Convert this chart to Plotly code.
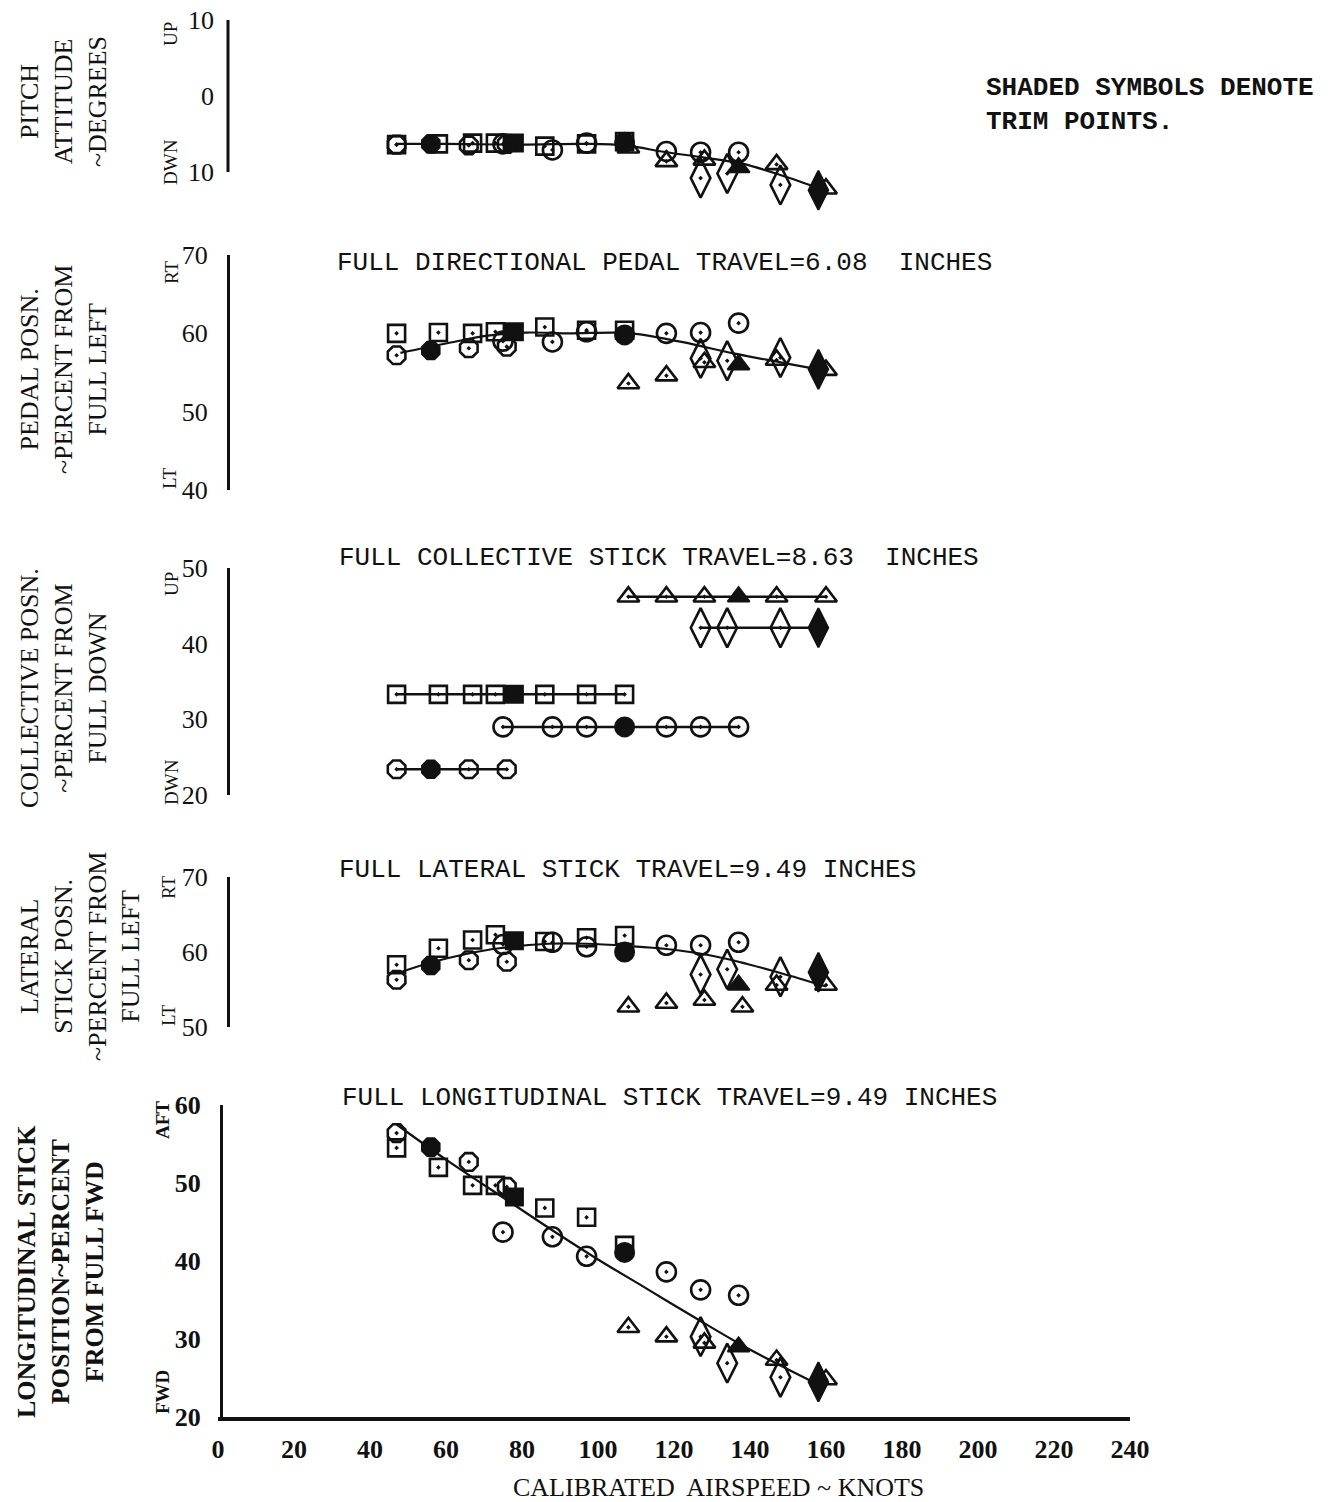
import plotly.graph_objects as go

# ---------------------------------------------------------------------------
# Calibrated airspeeds (knots) flown for each test condition
SQ_KT = [47, 58, 67, 73, 78, 86, 97, 107]          # squares
CI_KT = [75, 88, 97, 107, 118, 127, 137]           # circles
HX_KT = [47, 56, 66, 76]                           # octagons
TR_KT = [108, 118, 128, 137, 147, 160]             # triangles
DI_KT = [127, 134, 148, 158]                       # diamonds

# Trim point (shaded symbol) of each condition
SQ_TRIM, CI_TRIM, HX_TRIM, TR_TRIM, DI_TRIM = 78, 107, 56, 137, 158

# Pitch attitude, degrees (negative = nose down)
PITCH_SQ = [-6.4, -6.3, -6.2, -6.2, -6.2, -6.6, -6.3, -6.0]
PITCH_CI = [-6.3, -7.1, -6.2, -6.1, -7.3, -7.4, -7.4]
PITCH_HX = [-6.4, -6.3, -6.5, -6.3]
PITCH_TR = [-6.8, -8.6, -8.4, -9.4, -9.0, -12.2]
PITCH_DI = [-10.8, -10.2, -11.7, -12.4]
PITCH_FAIR_KT = [47, 60, 80, 97, 107, 118, 128, 138, 148, 159]
PITCH_FAIR = [-6.3, -6.3, -6.4, -6.3, -6.5, -7.4, -8.1, -8.9, -10.4, -12.3]

# Pedal position, percent from full left
PEDAL_SQ = [60.0, 60.1, 60.0, 60.2, 60.2, 60.8, 60.4, 60.4]
PEDAL_CI = [59.0, 58.9, 60.2, 59.8, 60.0, 60.1, 61.3]
PEDAL_HX = [57.2, 57.8, 58.1, 58.3]
PEDAL_TR = [53.6, 54.6, 56.3, 56.0, 56.6, 55.3]
PEDAL_DI = [56.8, 56.5, 56.9, 55.4]
PEDAL_FAIR_KT = [48, 60, 71, 81, 92, 104, 109, 122, 136, 148, 159]
PEDAL_FAIR = [57.5, 58.7, 59.7, 60.1, 60.0, 60.1, 60.0, 58.9, 57.4, 56.3, 55.3]

# Collective position, percent from full down
COLL_SQ = [33.3, 33.3, 33.3, 33.3, 33.3, 33.3, 33.3, 33.3]
COLL_CI = [29.0, 29.0, 29.0, 29.0, 29.0, 29.0, 29.0]
COLL_HX = [23.4, 23.4, 23.4, 23.4]
COLL_TR = [46.2, 46.2, 46.2, 46.2, 46.2, 46.2]
COLL_DI = [42.1, 42.1, 42.1, 42.1]

# Lateral stick position, percent from full left
LAT_SQ = [58.3, 60.5, 61.6, 62.3, 61.5, 61.4, 61.9, 62.2]
LAT_CI = [61.0, 61.3, 60.7, 60.0, 60.9, 60.9, 61.3]
LAT_HX = [56.3, 58.2, 58.9, 58.7]
LAT_TR = [52.7, 53.2, 53.6, 55.6, 55.6, 55.6]
LAT_DI = [57.0, 57.7, 56.7, 57.3]
LAT_TR_EXTRA_KT = [138]
LAT_TR_EXTRA = [52.7]
LAT_FAIR_KT = [48, 56, 65, 74, 87, 97, 108, 118, 129, 137, 148, 160]
LAT_FAIR = [57.3, 58.6, 59.7, 60.5, 61.1, 61.1, 60.8, 60.4, 59.6, 58.7, 57.2, 55.4]

# Longitudinal stick position, percent from full forward
LONG_SQ = [54.5, 52.0, 49.7, 49.7, 48.2, 46.8, 45.6, 42.0]
LONG_CI = [43.7, 43.1, 40.6, 41.1, 38.6, 36.3, 35.6]
LONG_HX = [56.4, 54.6, 52.7, 49.5]
LONG_TR = [31.5, 30.3, 29.5, 29.0, 27.3, 24.8]
LONG_DI = [30.3, 26.9, 25.1, 24.5]
LONG_FAIR_KT = [47, 60, 77, 90, 100, 113, 127, 139, 148, 159]
LONG_FAIR = [57.5, 53.0, 47.5, 43.3, 40.2, 36.4, 32.3, 28.9, 26.6, 23.9]

X_TICKS = [0, 20, 40, 60, 80, 100, 120, 140, 160, 180, 200, 220, 240]

# ---------------------------------------------------------------------------
FIG_W, FIG_H = 1332, 1502
PLOT_L, PLOT_R, PLOT_T, PLOT_B = 218, 1130, 10, 1417
PW, PH = PLOT_R - PLOT_L, PLOT_B - PLOT_T


def xp(px):
    return (px - PLOT_L) / PW


def yp(py):
    return (PLOT_B - py) / PH


SERIF = "Liberation Serif"
MONO = "Liberation Mono"
INK = "#111111"

SYMBOLS = {
    "sq": ("square", 17),
    "ci": ("circle", 19),
    "hx": ("octagon", 19),
    "tr": ("triangle-up", 19),
    "di": ("diamond-tall", 28),
}
SERIES = [
    ("sq", SQ_KT, SQ_TRIM),
    ("ci", CI_KT, CI_TRIM),
    ("hx", HX_KT, HX_TRIM),
    ("tr", TR_KT, TR_TRIM),
    ("di", DI_KT, DI_TRIM),
]

fig = go.Figure()


def add_points(kts, vals, key, trim, yaxis, connect=False):
    sym, size = SYMBOLS[key]
    if connect:
        fig.add_trace(go.Scatter(x=kts, y=vals, mode="lines", xaxis="x", yaxis=yaxis,
                                 line=dict(color=INK, width=2.5), showlegend=False,
                                 hoverinfo="skip"))
    ok = [(k, v) for k, v in zip(kts, vals) if k != trim]
    tr = [(k, v) for k, v in zip(kts, vals) if k == trim]
    if ok:
        fig.add_trace(go.Scatter(
            x=[p[0] for p in ok], y=[p[1] for p in ok], mode="markers",
            xaxis="x", yaxis=yaxis, cliponaxis=False, showlegend=False,
            marker=dict(symbol=sym + "-open-dot", size=size, color=INK,
                        line=dict(color=INK, width=2.6))))
    if tr:
        fig.add_trace(go.Scatter(
            x=[p[0] for p in tr], y=[p[1] for p in tr], mode="markers",
            xaxis="x", yaxis=yaxis, cliponaxis=False, showlegend=False,
            marker=dict(symbol=sym, size=size, color=INK,
                        line=dict(color=INK, width=2))))


def add_fairing(kts, vals, yaxis, width=2.2):
    fig.add_trace(go.Scatter(x=kts, y=vals, mode="lines", xaxis="x", yaxis=yaxis,
                             line=dict(color=INK, width=width, shape="spline", smoothing=1.0),
                             showlegend=False, hoverinfo="skip"))


# pitch attitude
add_fairing(PITCH_FAIR_KT, PITCH_FAIR, "y5")
for (key, kts, trim), vals in zip(SERIES, [PITCH_SQ, PITCH_CI, PITCH_HX, PITCH_TR, PITCH_DI]):
    add_points(kts, vals, key, trim, "y5")

# pedal
add_fairing(PEDAL_FAIR_KT, PEDAL_FAIR, "y4")
for (key, kts, trim), vals in zip(SERIES, [PEDAL_SQ, PEDAL_CI, PEDAL_HX, PEDAL_TR, PEDAL_DI]):
    add_points(kts, vals, key, trim, "y4")

# collective
for (key, kts, trim), vals in zip(SERIES, [COLL_SQ, COLL_CI, COLL_HX, COLL_TR, COLL_DI]):
    add_points(kts, vals, key, trim, "y3", connect=True)

# lateral stick
add_fairing(LAT_FAIR_KT, LAT_FAIR, "y2")
for (key, kts, trim), vals in zip(SERIES, [LAT_SQ, LAT_CI, LAT_HX, LAT_TR, LAT_DI]):
    add_points(kts, vals, key, trim, "y2")
add_points(LAT_TR_EXTRA_KT, LAT_TR_EXTRA, "tr", None, "y2")

# longitudinal stick
add_fairing(LONG_FAIR_KT, LONG_FAIR, "y")
for (key, kts, trim), vals in zip(SERIES, [LONG_SQ, LONG_CI, LONG_HX, LONG_TR, LONG_DI]):
    add_points(kts, vals, key, trim, "y")

# ---------------------------------------------------------------------------
tick_font = dict(family=SERIF, size=26, color=INK)


def yaxis_cfg(domain, rng, tickvals, ticktext=None, anchor_px=228, line=True, bold=False):
    labels = ticktext if ticktext is not None else [str(v) for v in tickvals]
    if bold:
        labels = ["<b>%s</b>" % t for t in labels]
    cfg = dict(domain=domain, range=rng, tickvals=tickvals, ticktext=labels,
               showgrid=False, zeroline=False,
               showline=line, linecolor=INK, linewidth=3, ticks="", tickfont=tick_font,
               ticklabelstandoff=14, fixedrange=True, automargin=False)
    if anchor_px == PLOT_L:
        cfg["anchor"] = "x"
    else:
        cfg["anchor"] = "free"
        cfg["position"] = xp(anchor_px)
    return cfg


fig.update_layout(
    width=FIG_W, height=FIG_H,
    margin=dict(l=PLOT_L, r=FIG_W - PLOT_R, t=PLOT_T, b=FIG_H - PLOT_B, autoexpand=False),
    paper_bgcolor="white", plot_bgcolor="white",
    showlegend=False,
    xaxis=dict(range=[0, 240], tickvals=X_TICKS,
               ticktext=["<b>%d</b>" % v for v in X_TICKS],
               showgrid=False, zeroline=False,
               showline=True, linecolor=INK, linewidth=4, ticks="", anchor="y",
               tickfont=dict(family=SERIF, size=26, color=INK), ticklabelstandoff=6,
               fixedrange=True, automargin=False),
    yaxis=yaxis_cfg([0, yp(1105)], [20, 60], [20, 30, 40, 50, 60], anchor_px=221, bold=True),
    yaxis2=yaxis_cfg([yp(1027), yp(877)], [50, 70], [50, 60, 70]),
    yaxis3=yaxis_cfg([yp(795), yp(568)], [20, 50], [20, 30, 40, 50]),
    yaxis4=yaxis_cfg([yp(490), yp(255)], [40, 70], [40, 50, 60, 70]),
    yaxis5=yaxis_cfg([yp(194.8), yp(20)], [-13, 10], [-10, 0, 10], ["10", "0", "10"], line=False),
)

# pitch axis spine only covers -10 .. +10 degrees
fig.add_shape(type="line", xref="paper", yref="y5", x0=xp(228), x1=xp(228), y0=-10, y1=10,
              line=dict(color=INK, width=3))

annotations = []


def note(text, x, y, size, family=SERIF, angle=0, xanchor="center", bold=False, align="center"):
    if bold:
        text = "<b>" + text.replace("<br>", "</b><br><b>") + "</b>"
    annotations.append(dict(text=text, x=xp(x), y=yp(y), xref="paper", yref="paper",
                            showarrow=False, textangle=angle, xanchor=xanchor, yanchor="middle",
                            align=align, font=dict(family=family, size=size, color=INK)))


# panel captions
note("FULL DIRECTIONAL PEDAL TRAVEL=6.08  INCHES", 335, 263, 26, MONO, xanchor="left")
note("FULL COLLECTIVE STICK TRAVEL=8.63  INCHES", 337, 558, 26, MONO, xanchor="left")
note("FULL LATERAL STICK TRAVEL=9.49 INCHES", 337, 870, 26, MONO, xanchor="left")
note("FULL LONGITUDINAL STICK TRAVEL=9.49 INCHES", 340, 1098, 26, MONO, xanchor="left")
note("SHADED SYMBOLS DENOTE<br>TRIM POINTS.", 984, 105, 26, MONO, xanchor="left", bold=True,
     align="left")

# axis titles
note("PITCH<br>ATTITUDE<br>~DEGREES", 63, 102, 26, angle=-90)
note("PEDAL POSN.<br>~PERCENT FROM<br>FULL LEFT", 63, 370, 26, angle=-90)
note("COLLECTIVE POSN.<br>~PERCENT FROM<br>FULL DOWN", 63, 688, 26, angle=-90)
note("LATERAL<br>STICK POSN.<br>~PERCENT FROM<br>FULL LEFT", 80, 957, 26, angle=-90)
note("LONGITUDINAL STICK<br>POSITION~PERCENT<br>FROM FULL FWD", 60, 1272, 26, angle=-90, bold=True)

# direction labels beside the scales
for txt, x, y, b in [("UP", 171, 34, False), ("DWN", 171, 162, False),
                     ("RT", 171, 272, False), ("LT", 170, 478, False),
                     ("UP", 171, 584, False), ("DWN", 171, 782, False),
                     ("RT", 168, 887, False), ("LT", 168, 1015, False),
                     ("AFT", 162, 1120, True), ("FWD", 162, 1392, True)]:
    note(txt, x, y, 19, angle=-90, bold=b)

# abscissa title
note("CALIBRATED  AIRSPEED ~ KNOTS", 718, 1487, 26)

fig.update_layout(annotations=annotations)

fig.write_html("out.html")
